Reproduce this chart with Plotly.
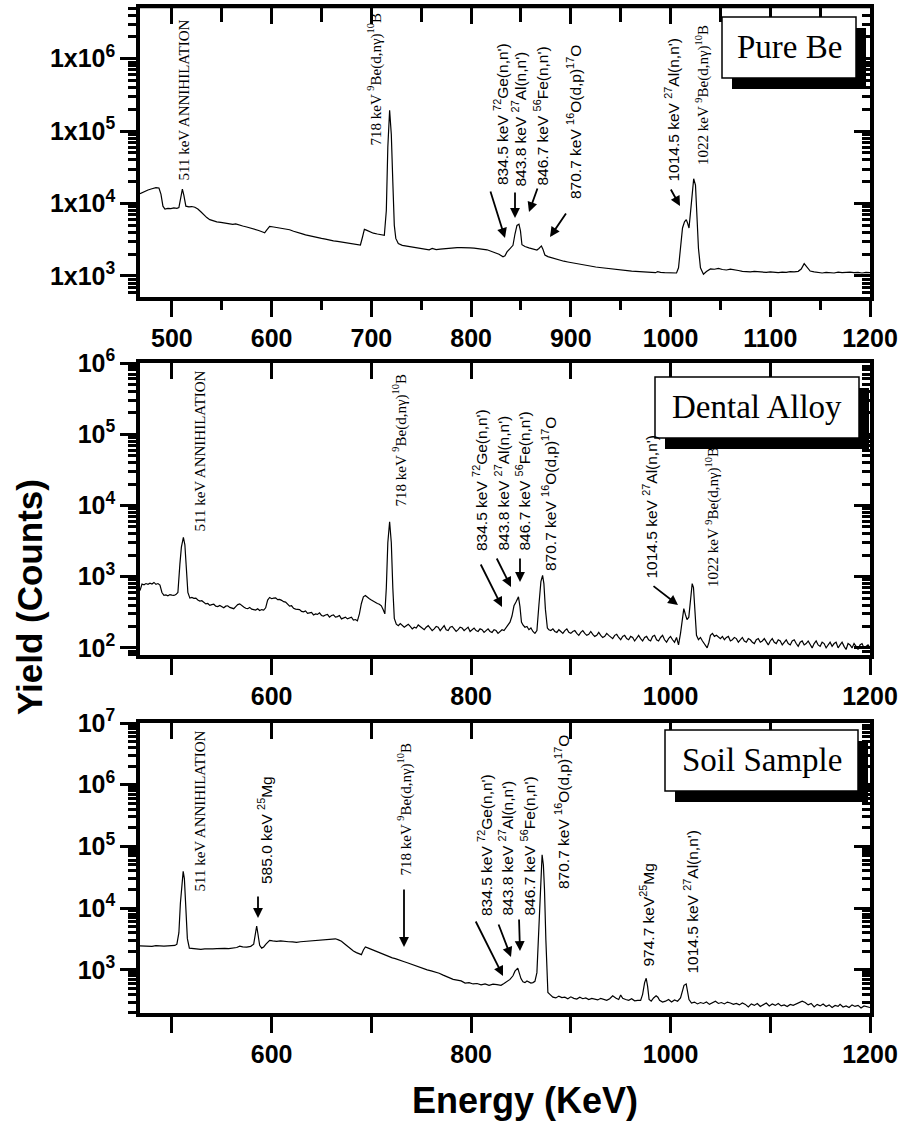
import math
import plotly.graph_objects as go

# ---------------- data ----------------
# Panel 1: Pure Be
E_BE = [468, 472, 476, 480, 484, 487, 489, 491, 493, 496, 499, 502, 505, 507, 509, 510.5, 512, 514, 517, 520,
        523, 526, 529, 532, 535, 538, 541, 545, 549, 553, 557, 561, 564, 567, 571, 575, 579, 583, 587, 591,
        593, 595, 598, 602, 606, 610, 614, 618, 622, 626, 630, 634, 638, 642, 646, 650, 654, 658, 662, 666,
        670, 674, 678, 682, 686, 689, 691, 693, 695, 698, 702, 706, 710, 713, 715, 716.5, 718.3, 720, 721.5, 723,
        724.5, 727, 731, 735, 739, 743, 747, 751, 755, 758, 761, 765, 769, 773, 778, 782, 786, 790, 795, 799,
        803, 807, 812, 816, 820, 824, 828, 832, 834, 836, 839, 842, 844, 846, 848, 849.5, 851, 854, 858, 862,
        866, 868, 870.5, 872, 874, 877, 881, 885, 889, 893, 897, 901, 905, 909, 913, 917, 921, 925, 929, 933,
        937, 941, 945, 949, 953, 957, 961, 965, 969, 973, 977, 981, 985, 987, 990, 994, 998, 1002, 1006, 1008,
        1010, 1012, 1014, 1015.8, 1017, 1018.5, 1020, 1021.5, 1023.2, 1025, 1026.5, 1028, 1030, 1033, 1036, 1040, 1044, 1048, 1052, 1056,
        1060, 1064, 1068, 1072, 1076, 1080, 1084, 1088, 1092, 1096, 1100, 1104, 1108, 1112, 1116, 1120, 1124, 1128, 1131, 1134,
        1137, 1140, 1144, 1148, 1152, 1156, 1160, 1164, 1168, 1172, 1176, 1180, 1184, 1188, 1192, 1196, 1200]
Y_BE = [13700, 14600, 15400, 16000, 16600, 16400, 13500, 9200, 8400, 8600, 8500, 8700, 8600, 8800, 12000, 15800, 13000, 9200, 9000, 9100,
        8900, 8400, 7700, 7000, 6400, 6000, 5800, 5600, 5500, 5350, 5250, 5150, 5250, 5050, 4900, 4750, 4600, 4400, 4250, 4050,
        3950, 4300, 4850, 4750, 4650, 4600, 4500, 4350, 4150, 3950, 3850, 3700, 3580, 3450, 3380, 3300, 3230, 3120, 3050, 3000,
        2950, 2870, 2800, 2780, 2720, 2680, 3400, 4400, 4300, 4100, 3900, 3800, 3700, 3650, 8000, 60000, 194000, 90000, 20000, 5000,
        3300, 2800, 2650, 2600, 2520, 2500, 2460, 2420, 2360, 2300, 2400, 2320, 2350, 2380, 2450, 2430, 2470, 2460, 2480, 2440,
        2420, 2400, 2370, 2300, 2200, 2120, 2000, 1840, 1900, 2150, 2400, 2650, 3800, 5000, 5200, 4200, 2700, 2550, 2450, 2350,
        2280, 2400, 2600, 2350, 1950, 1850, 1780, 1700, 1650, 1600, 1560, 1520, 1490, 1460, 1420, 1380, 1350, 1330, 1310, 1290,
        1260, 1240, 1220, 1200, 1190, 1180, 1170, 1160, 1150, 1150, 1140, 1130, 1110, 1150, 1120, 1110, 1100, 1090, 1100, 1300,
        2600, 4600, 5600, 6000, 5400, 4600, 7500, 14500, 22000, 18000, 7000, 2400, 1300, 1060, 1150, 1250, 1240, 1270, 1230, 1210,
        1240, 1200, 1190, 1160, 1150, 1140, 1160, 1140, 1130, 1120, 1140, 1130, 1110, 1130, 1120, 1150, 1140, 1160, 1250, 1480,
        1300, 1170, 1140, 1120, 1100, 1120, 1110, 1100, 1130, 1110, 1120, 1130, 1110, 1120, 1100, 1120, 1110]

# Panel 2: Dental Alloy
E_DA = [468, 470, 472, 474, 476, 478, 480, 482, 484, 486, 488, 490, 492, 494, 496, 498, 500, 502, 504, 506,
        508, 509.5, 511.5, 513, 514.5, 516, 518, 520, 522, 524, 526, 528, 530, 532, 534, 536, 538, 540, 542, 544,
        546, 548, 550, 552, 554, 556, 558, 560, 562, 564, 566, 568, 570, 572, 574, 576, 578, 580, 582, 584,
        586, 588, 590, 592, 594, 596, 598, 600, 602, 604, 606, 608, 610, 612, 614, 616, 618, 620, 622, 624,
        626, 628, 630, 632, 634, 636, 638, 640, 642, 644, 646, 648, 650, 652, 654, 656, 658, 660, 662, 664,
        666, 668, 670, 672, 674, 676, 678, 680, 682, 684, 686, 688, 690, 692, 694, 696, 698, 700, 702, 704,
        706, 708, 710, 712, 713.5, 715, 716.5, 718.3, 720, 721.5, 723, 725, 727, 729, 731, 733, 735, 737, 739, 741,
        743, 745, 747, 749, 751, 753, 755, 757, 759, 761, 763, 765, 767, 769, 771, 773, 775, 777, 779, 781,
        783, 785, 787, 789, 791, 793, 795, 797, 799, 801, 803, 805, 807, 809, 811, 813, 815, 817, 819, 821,
        823, 825, 827, 829, 831, 833, 835, 837, 839, 841, 843, 845, 847.5, 849, 850.5, 852, 854, 856, 858, 860,
        862, 864, 866, 868, 870, 871.7, 873, 874.5, 876.5, 878, 880, 882, 884, 886, 888, 890, 892, 894, 896, 898,
        900, 902, 904, 906, 908, 910, 912, 914, 916, 918, 920, 922, 924, 926, 928, 930, 932, 934, 936, 938,
        940, 942, 944, 946, 948, 950, 952, 954, 956, 958, 960, 962, 964, 966, 968, 970, 972, 974, 976, 978,
        980, 982, 984, 986, 988, 990, 992, 994, 996, 998, 1000, 1002, 1004, 1006, 1008, 1010, 1012, 1013.3, 1015, 1016.5,
        1018.3, 1020, 1021.7, 1023, 1024.5, 1026, 1028, 1030, 1032, 1034, 1036.7, 1038.5, 1040, 1042, 1044, 1046, 1048, 1050, 1052, 1054,
        1056, 1058, 1060, 1062, 1064, 1066, 1068, 1070, 1072, 1074, 1076, 1078, 1080, 1082, 1084, 1086, 1088, 1090, 1092, 1094,
        1096, 1098, 1100, 1102, 1104, 1106, 1108, 1110, 1112, 1114, 1116, 1118, 1120, 1122, 1124, 1126, 1128, 1130, 1132, 1134,
        1136, 1138, 1140, 1142, 1144, 1146, 1148, 1150, 1152, 1154, 1156, 1158, 1160, 1162, 1164, 1166, 1168, 1170, 1172, 1174,
        1176, 1178, 1180, 1182, 1184, 1186, 1188, 1190, 1192, 1194, 1196, 1198, 1200]
Y_DA = [640, 790, 770, 800, 780, 810, 790, 830, 780, 800, 760, 600, 545, 555, 540, 560, 550, 545, 560, 600,
        1500, 2600, 3550, 2800, 1300, 600, 500, 510, 495, 500, 470, 455, 460, 430, 415, 420, 395, 405, 410, 385,
        380, 395, 375, 365, 385, 390, 370, 360, 355, 380, 405, 415, 390, 375, 360, 355, 370, 350, 345, 340,
        355, 335, 345, 340, 365, 470, 510, 490, 500, 505, 475, 480, 465, 445, 440, 410, 385, 390, 360, 350,
        345, 345, 325, 320, 330, 305, 310, 315, 290, 300, 295, 310, 285, 280, 290, 295, 270, 285, 290, 270,
        275, 285, 255, 265, 270, 255, 260, 270, 245, 250, 240, 300, 420, 520, 545, 510, 490, 470, 450, 430,
        420, 410, 390, 340, 300, 700, 3000, 5900, 3000, 700, 260, 215, 205, 220, 210, 195, 205, 215, 200, 185,
        195, 190, 210, 200, 185, 180, 195, 205, 190, 175, 185, 200, 195, 175, 190, 205, 180, 175, 195, 200,
        185, 170, 180, 195, 190, 175, 185, 195, 170, 180, 190, 175, 170, 185, 180, 165, 175, 185, 170, 165,
        180, 175, 160, 170, 180, 175, 190, 205, 230, 280, 390, 440, 520, 380, 230, 210, 195, 200, 180, 190,
        170, 160, 175, 400, 850, 1040, 800, 350, 190, 180, 175, 185, 170, 165, 180, 170, 160, 175, 185, 165,
        160, 170, 175, 160, 150, 165, 175, 160, 150, 155, 170, 155, 145, 150, 165, 150, 140, 145, 160, 150,
        140, 135, 150, 155, 140, 130, 145, 150, 135, 130, 145, 140, 125, 140, 150, 135, 125, 140, 145, 130,
        125, 145, 150, 130, 125, 140, 150, 130, 120, 135, 145, 130, 120, 140, 110, 160, 280, 355, 290, 250,
        270, 500, 800, 700, 300, 150, 130, 140, 125, 115, 100, 120, 150, 160, 145, 150, 140, 135, 145, 130,
        140, 145, 125, 130, 140, 135, 120, 130, 140, 125, 120, 135, 130, 120, 115, 130, 135, 120, 125, 135,
        120, 110, 125, 135, 120, 115, 130, 125, 110, 120, 130, 115, 110, 125, 130, 115, 105, 120, 125, 110,
        115, 125, 110, 100, 115, 125, 110, 105, 120, 115, 100, 110, 120, 105, 115, 120, 100, 110, 120, 105,
        95, 115, 110, 100, 115, 105, 95, 110, 115, 100, 105, 110, 100]

# Panel 3: Soil Sample
E_SS = [468, 472, 476, 480, 484, 488, 492, 496, 500, 503, 505, 507, 508.5, 510, 511.3, 512.5, 514, 515.5, 517.5, 521,
        525, 529, 533, 537, 541, 545, 549, 553, 557, 561, 565, 568, 571, 575, 579, 582, 583.5, 585, 586.5, 588,
        590, 592, 594.3, 596, 598, 601, 605, 609, 613, 617, 621, 625, 629, 633, 637, 641, 645, 649, 653, 657,
        661, 664, 667, 670, 673, 676, 679, 682, 685, 688, 690, 692, 694, 697, 700, 703, 706, 709, 712, 715,
        718, 721, 724, 727, 730, 733, 736, 740, 744, 748, 752, 756, 760, 764, 768, 772, 776, 779, 782, 786,
        790, 794, 798, 802, 806, 810, 814, 818, 822, 826, 830, 833, 836, 839, 842, 844, 846.8, 848.5, 850, 852,
        854, 856, 858, 860, 862, 864, 866, 867.5, 869, 870.5, 871.2, 872.5, 873.6, 875, 876, 877, 879, 882, 885, 888,
        891, 894, 897, 900, 903, 906, 909, 912, 915, 918, 921, 924, 927, 930, 933, 936, 939, 942, 945, 948,
        950, 952, 955, 958, 961, 964, 967, 970, 972, 974, 975.6, 977, 978.5, 980.6, 983, 985.5, 987.3, 989, 992, 995,
        998, 1001, 1004, 1007, 1010, 1012, 1013.5, 1015.7, 1017, 1018.5, 1021, 1024, 1027, 1030, 1033, 1036, 1039, 1042, 1045, 1048,
        1051, 1054, 1057, 1060, 1063, 1066, 1069, 1072, 1075, 1078, 1081, 1084, 1087, 1090, 1093, 1096, 1099, 1102, 1105, 1108,
        1111, 1114, 1117, 1120, 1123, 1126, 1129, 1132, 1135, 1138, 1141, 1144, 1147, 1150, 1153, 1156, 1159, 1162, 1165, 1168,
        1170, 1173, 1176, 1179, 1182, 1185, 1188, 1191, 1194, 1197, 1200]
Y_SS = [2450, 2420, 2450, 2400, 2460, 2430, 2420, 2450, 2470, 2480, 2600, 4000, 12000, 28000, 39400, 30000, 9000, 3200, 2240, 2200,
        2170, 2150, 2180, 2160, 2190, 2200, 2180, 2220, 2210, 2250, 2300, 2420, 2350, 2330, 2400, 2600, 3800, 5130, 3600, 2500,
        2250, 2350, 2600, 2800, 3000, 2950, 2900, 2950, 2880, 2850, 2830, 2780, 2850, 2880, 2950, 2980, 3000, 3030, 3050, 3080,
        3150, 3180, 3050, 2900, 2650, 2400, 2200, 2020, 1900, 1800, 1760, 2100, 2340, 2250, 2150, 2050, 1950, 1850, 1780, 1700,
        1620, 1560, 1520, 1450, 1420, 1350, 1300, 1230, 1150, 1100, 1060, 1000, 960, 920, 880, 820, 760, 730, 700, 680,
        660, 610, 620, 590, 600, 570, 590, 560, 585, 575, 560, 600, 640, 700, 800, 950, 1065, 900, 720, 640,
        620, 660, 640, 610, 620, 650, 900, 3000, 18000, 60000, 73300, 50000, 20000, 3000, 800, 430, 400, 360, 350, 375,
        355, 360, 340, 365, 345, 335, 360, 340, 350, 330, 345, 335, 325, 345, 330, 320, 340, 380, 350, 330,
        390, 345, 330, 320, 340, 315, 320, 320, 400, 620, 730, 540, 330, 310, 350, 380, 360, 320, 300, 310,
        330, 300, 325, 310, 350, 480, 560, 590, 420, 330, 290, 300, 280, 295, 285, 300, 275, 290, 310, 285,
        295, 280, 300, 290, 275, 285, 270, 290, 275, 250, 280, 265, 285, 255, 275, 290, 260, 280, 265, 285,
        260, 270, 255, 275, 265, 280, 290, 310, 295, 270, 285, 250, 275, 260, 280, 255, 270, 245, 265, 255,
        275, 250, 260, 245, 270, 255, 265, 240, 260, 250, 245]

SAMPLE_NAMES = ["Pure Be", "Dental Alloy", "Soil Sample"]
X_RANGE = [468, 1200]
X_TICKS = [500, 600, 700, 800, 900, 1000, 1100, 1200]
X_LABELS_TOP = ["500", "600", "700", "800", "900", "1000", "1100", "1200"]
X_LABELS_SPARSE = ["", "600", "", "800", "", "1000", "", "1200"]
Y_RANGES = [[2.71, 6.70], [1.9, 6.0], [2.3, 7.0]]
Y_TICKS = [[1e3, 1e4, 1e5, 1e6], [1e2, 1e3, 1e4, 1e5, 1e6], [1e3, 1e4, 1e5, 1e6, 1e7]]
Y_LABELS = [["1x10<sup>3</sup>", "1x10<sup>4</sup>", "1x10<sup>5</sup>", "1x10<sup>6</sup>"],
            ["10<sup>2</sup>", "10<sup>3</sup>", "10<sup>4</sup>", "10<sup>5</sup>", "10<sup>6</sup>"],
            ["10<sup>3</sup>", "10<sup>4</sup>", "10<sup>5</sup>", "10<sup>6</sup>", "10<sup>7</sup>"]]

# ---------------- layout geometry (window pixels) ----------------
W, H = 904, 1128
L, R, T, B = 140, 870, 8, 1013
PANEL_PX = [(8, 297), (363, 655), (723, 1013)]

def pxx(x):
    return (x - L) / (R - L)

def pxy(y):
    return (B - y) / (B - T)

SERIF = "Liberation Serif"
SANS = "Liberation Sans"
TICKFONT = dict(family=SANS, size=25, color="black", weight="bold")

fig = go.Figure()
series = [(E_BE, Y_BE), (E_DA, Y_DA), (E_SS, Y_SS)]
layout = dict(width=W, height=H,
              margin=dict(l=L, r=W - R, t=T, b=H - B, autoexpand=False),
              paper_bgcolor="white", plot_bgcolor="white", showlegend=False)

for i, (ex, ey) in enumerate(series):
    n = i + 1
    m = i + 4
    xid = "x" if n == 1 else f"x{n}"
    yid = "y" if n == 1 else f"y{n}"
    fig.add_trace(go.Scatter(x=ex, y=ey, mode="lines", line=dict(color="black", width=1.2),
                             xaxis=xid, yaxis=yid, hoverinfo="skip"))
    # invisible helpers so the mirrored (inside-tick) axes are drawn
    fig.add_trace(go.Scatter(x=[ex[0]], y=[ey[0]], mode="markers", marker=dict(opacity=0),
                             xaxis=f"x{m}", yaxis=yid, hoverinfo="skip"))
    fig.add_trace(go.Scatter(x=[ex[0]], y=[ey[0]], mode="markers", marker=dict(opacity=0),
                             xaxis=xid, yaxis=f"y{m}", hoverinfo="skip"))

    top_px, bot_px = PANEL_PX[i]
    dom = [max(0.0, pxy(bot_px)), min(1.0, pxy(top_px))]
    xname = "xaxis" if n == 1 else f"xaxis{n}"
    yname = "yaxis" if n == 1 else f"yaxis{n}"
    xminor = [550, 650, 750, 850, 950, 1050, 1150] if i == 0 else []
    lo, hi = Y_RANGES[i]
    yminor = [k * 10 ** d for d in range(1, 8) for k in range(2, 10)
              if lo <= math.log10(k * 10 ** d) <= hi]
    xticktext = X_LABELS_TOP if i == 0 else X_LABELS_SPARSE
    layout[xname] = dict(domain=[0, 1], range=X_RANGE, anchor=yid, showline=True, linewidth=3.5,
                         linecolor="black", mirror=True, ticks="outside", ticklen=16, tickwidth=3,
                         tickcolor="black", tickmode="array", tickvals=X_TICKS, ticktext=xticktext,
                         tickfont=TICKFONT, showgrid=False, zeroline=False, automargin=False,
                         minor=dict(tickmode="array", tickvals=xminor, ticks="outside", ticklen=9,
                                    tickwidth=3, tickcolor="black", showgrid=False))
    layout[yname] = dict(domain=dom, type="log", range=Y_RANGES[i], anchor=xid, showline=True,
                         linewidth=3.5, linecolor="black", mirror=True, ticks="outside", ticklen=16,
                         tickwidth=3, tickcolor="black", tickmode="array", tickvals=Y_TICKS[i],
                         ticktext=Y_LABELS[i], tickfont=TICKFONT, showgrid=False, zeroline=False,
                         automargin=False,
                         minor=dict(tickmode="array", tickvals=yminor, ticks="outside", ticklen=8,
                                    tickwidth=2.5, tickcolor="black", showgrid=False))
    layout[f"xaxis{m}"] = dict(overlaying=xid, anchor=yid, side="top", range=X_RANGE, showline=False,
                               ticks="inside", ticklen=16, tickwidth=3, tickcolor="black",
                               tickmode="array", tickvals=X_TICKS, showticklabels=False,
                               showgrid=False, zeroline=False, automargin=False,
                               minor=dict(tickmode="array", tickvals=xminor, ticks="inside", ticklen=14,
                                          tickwidth=3, tickcolor="black", showgrid=False))
    layout[f"yaxis{m}"] = dict(overlaying=yid, anchor=xid, side="right", type="log", range=Y_RANGES[i],
                               showline=False, ticks="inside", ticklen=16, tickwidth=3,
                               tickcolor="black", tickmode="array", tickvals=Y_TICKS[i],
                               showticklabels=False, showgrid=False, zeroline=False, automargin=False,
                               minor=dict(tickmode="array", tickvals=yminor, ticks="inside", ticklen=8,
                                          tickwidth=2.5, tickcolor="black", showgrid=False))

fig.update_layout(**layout)

# ---------------- frame line at the very top of panel 1 ----------------
shapes = [dict(type="line", xref="paper", yref="paper", x0=pxx(L - 2), x1=pxx(R + 2),
               y0=pxy(6.5), y1=pxy(6.5), line=dict(color="black", width=3.5))]

# ---------------- sample boxes with drop shadow ----------------
BOXES = [((722, 17, 856, 78), (789, 47)), ((655, 377, 859, 438), (757, 407)),
         ((665, 730, 858, 791), (762, 760))]
annotations = []
for (x0, y0, x1, y1), (tx, ty) in BOXES:
    shapes.append(dict(type="rect", xref="paper", yref="paper", x0=pxx(x0 + 10), x1=pxx(x1 + 10),
                       y0=pxy(y0 + 11), y1=pxy(y1 + 11), fillcolor="black", line=dict(width=0)))
    shapes.append(dict(type="rect", xref="paper", yref="paper", x0=pxx(x0), x1=pxx(x1),
                       y0=pxy(y0), y1=pxy(y1), fillcolor="white", line=dict(color="black", width=1.5)))
for name, (_, (tx, ty)) in zip(SAMPLE_NAMES, BOXES):
    annotations.append(dict(x=pxx(tx), y=pxy(ty), xref="paper", yref="paper", text=name,
                            showarrow=False, xanchor="center", yanchor="middle",
                            font=dict(family=SERIF, size=33, color="black")))

# ---------------- peak labels ----------------
ANN = "511 keV ANNIHILATION"
BE718 = "718 keV <sup>9</sup>Be(d,nγ)<sup>10</sup>B"
BE1022 = "1022 keV <sup>9</sup>Be(d,nγ)<sup>10</sup>B"
GE = "834.5 keV <sup>72</sup>Ge(n,n')"
AL = "843.8 keV <sup>27</sup>Al(n,n')"
FE = "846.7 keV <sup>56</sup>Fe(n,n')"
OX = "870.7 keV <sup>16</sup>O(d,p)<sup>17</sup>O"
AL2 = "1014.5 keV <sup>27</sup>Al(n,n')"
MG585 = "585.0 keV <sup>25</sup>Mg"
MG974 = "974.7 keV<sup>25</sup>Mg"

LABELS = [
    (ANN, SERIF, 183, 182), (BE718, SERIF, 375, 147), (GE, SANS, 501, 186), (AL, SANS, 520, 188),
    (FE, SANS, 541, 187), (OX, SANS, 574, 200), (AL2, SANS, 673, 183), (BE1022, SERIF, 702, 166),
    (ANN, SERIF, 199, 533), (BE718, SERIF, 400, 508), (GE, SANS, 480, 552), (AL, SANS, 502, 552),
    (FE, SANS, 523, 552), (OX, SANS, 549, 572), (AL2, SANS, 650, 580), (BE1022, SERIF, 712, 588),
    (ANN, SERIF, 199, 893), (MG585, SANS, 265, 885), (BE718, SERIF, 405, 877), (GE, SANS, 485, 917),
    (AL, SANS, 506, 917), (FE, SANS, 528, 917), (OX, SANS, 562, 890), (MG974, SANS, 647, 968),
    (AL2, SANS, 691, 975),
]
for text, fam, x, y in LABELS:
    annotations.append(dict(x=pxx(x), y=pxy(y), xref="paper", yref="paper", text=text, textangle=-90,
                            showarrow=False, xanchor="center", yanchor="bottom", borderpad=0,
                            font=dict(family=fam, size=15 if fam == SERIF else 15.5, color="black")))

ARROWS = [
    (490, 190, 505, 238), (515, 191, 515, 218), (538, 187, 529, 212), (567, 212, 550, 237),
    (670, 188, 680, 206),
    (480, 563, 502, 607), (496, 557, 511, 587), (520, 557, 520, 582), (652, 585, 678, 605),
    (258, 895, 258, 918), (404, 888, 404, 947), (475, 920, 503, 976), (498, 923, 511, 957),
    (519, 918, 520, 951),
]
for x0, y0, x1, y1 in ARROWS:
    annotations.append(dict(x=pxx(x1), y=pxy(y1), xref="paper", yref="paper", ax=x0 - x1, ay=y0 - y1,
                            text="", showarrow=True, arrowhead=2, arrowsize=1.1, arrowwidth=1.8,
                            arrowcolor="black", standoff=0))

# ---------------- axis titles ----------------
annotations.append(dict(x=pxx(29), y=pxy(597), xref="paper", yref="paper", text="Yield (Counts)",
                        textangle=-90, showarrow=False, xanchor="center", yanchor="middle",
                        font=dict(family=SANS, size=35, color="black", weight="bold")))
annotations.append(dict(x=pxx(525), y=pxy(1100), xref="paper", yref="paper", text="Energy (KeV)",
                        showarrow=False, xanchor="center", yanchor="middle",
                        font=dict(family=SANS, size=36, color="black", weight="bold")))

fig.update_layout(shapes=shapes, annotations=annotations)
# remove the browser's default 8px body margin so the figure sits at the window origin
fig.write_html("out.html", config={"displayModeBar": False},
               post_script="document.body.style.margin='0';")
